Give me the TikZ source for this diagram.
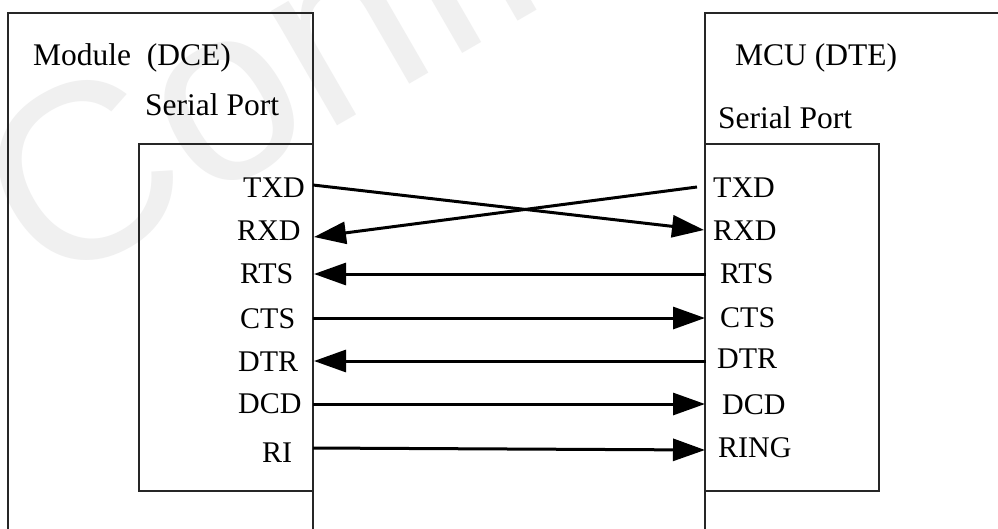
\documentclass[tikz,border=0pt]{standalone}
\usepackage{fontspec}
\setmainfont{Liberation Serif}
\newfontfamily\wmfont{Liberation Sans}
\usetikzlibrary{arrows.meta}
\begin{document}
\begin{tikzpicture}[x=1pt,y=-1pt,
  boxline/.style={draw=black!85, line width=1.3pt},
  sig/.style={font=\fontsize{30}{36}\selectfont, inner sep=0pt, anchor=base west},
  head/.style={font=\fontsize{31.5}{38}\selectfont, inner sep=0pt, anchor=base west},
  wire/.style={line width=3pt, -{Triangle[length=32pt,width=22pt]}},
  wmark/.style={font=\fontsize{250}{250}\wmfont, text=black!6, inner sep=0pt, anchor=base west, rotate=30}]
\useasboundingbox (0,0) rectangle (998,528);
\clip (0,0) rectangle (998,528);
\fill[white] (0,0) rectangle (998,528);
% watermark
\node[wmark] (wm) at (46,294) {Confidential};
% outer boxes (cut by the picture edges)
\draw[boxline] (8,540) -- (8,13) -- (313,13) -- (313,540);
\draw[boxline] (1010,13) -- (705,13) -- (705,540);
% inner boxes
\draw[boxline] (139,144) rectangle (313,491);
\draw[boxline] (705,144) rectangle (879,491);
% headings
\node[head] (mod) at (33,65) {Module\ \ (DCE)};
\node[head] (spl) at (145,115) {Serial Port};
\node[head] (mcu) at (735,65) {MCU (DTE)};
\node[head] (spr) at (718,128) {Serial Port};
% left signals
\node[sig] (lTXD) at (243,197) {TXD};
\node[sig] (lRXD) at (237,240) {RXD};
\node[sig] (lRTS) at (240,283) {RTS};
\node[sig] (lCTS) at (240,328) {CTS};
\node[sig] (lDTR) at (238,371) {DTR};
\node[sig] (lDCD) at (238,413) {DCD};
\node[sig] (lRI)  at (262,462) {RI};
% right signals
\node[sig] (rTXD) at (713,197) {TXD};
\node[sig] (rRXD) at (713,240) {RXD};
\node[sig] (rRTS) at (720,283) {RTS};
\node[sig] (rCTS) at (720,327) {CTS};
\node[sig] (rDTR) at (717,368) {DTR};
\node[sig] (rDCD) at (722,414) {DCD};
\node[sig] (rRING) at (718,457) {RING};
% wire end points
\coordinate (aTXD) at (313,185);  \coordinate (bTXD) at (704,230);
\coordinate (aRXD) at (697,187);  \coordinate (bRXD) at (314,237);
\coordinate (aRTS) at (706,274);  \coordinate (bRTS) at (314,274);
\coordinate (aCTS) at (313,318);  \coordinate (bCTS) at (705,318);
\coordinate (aDTR) at (706,361);  \coordinate (bDTR) at (314,361);
\coordinate (aDCD) at (313,404);  \coordinate (bDCD) at (705,404);
\coordinate (aRI)  at (313,448);  \coordinate (bRI)  at (705,450);
% wires
\draw[wire] (aTXD) -- (bTXD);
\draw[wire] (aRXD) -- (bRXD);
\draw[wire] (aRTS) -- (bRTS);
\draw[wire] (aCTS) -- (bCTS);
\draw[wire] (aDTR) -- (bDTR);
\draw[wire] (aDCD) -- (bDCD);
\draw[wire] (aRI) -- (bRI);
\end{tikzpicture}
\end{document}
